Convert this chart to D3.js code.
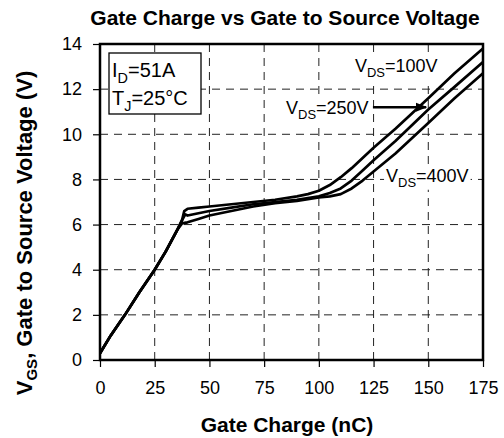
<!DOCTYPE html>
<html>
<head>
<meta charset="utf-8">
<script src="https://cdn.jsdelivr.net/npm/d3@7"></script>
<style>
  body { margin: 0; background: #fff; }
  text { font-family: "Liberation Sans", Arial, sans-serif; fill: #000; }
</style>
</head>
<body>
<script>
// chart data
let xTicks = [0, 25, 50, 75, 100, 125, 150, 175];
let yTicks = [0, 2, 4, 6, 8, 10, 12, 14];

let qg100 = [0, 5, 11.4, 18, 25, 30, 35.5, 37.5, 38.5, 40, 45, 50, 60, 70, 80, 90, 95, 100, 105, 110, 115, 120, 125, 135, 150, 162, 175];
let vgs100 = [0.3, 1.1, 2.0, 3.0, 4.0, 4.8, 5.8, 6.2, 6.6, 6.7, 6.75, 6.8, 6.9, 7.0, 7.1, 7.25, 7.35, 7.5, 7.75, 8.1, 8.5, 8.95, 9.4, 10.25, 11.6, 12.7, 13.8];

let qg250 = [0, 5, 11.4, 18, 25, 30, 35.5, 37.5, 39, 40, 45, 50, 60, 70, 80, 90, 100, 105, 110, 115, 120, 125, 135, 150, 162, 175];
let vgs250 = [0.3, 1.1, 2.0, 3.0, 4.0, 4.8, 5.8, 6.2, 6.45, 6.4, 6.5, 6.6, 6.75, 6.9, 7.0, 7.1, 7.25, 7.4, 7.6, 7.95, 8.4, 8.85, 9.7, 11.1, 12.1, 13.2];

let qg400 = [0, 5, 11.4, 18, 25, 30, 35.5, 37.5, 40, 45, 50, 60, 70, 80, 90, 100, 105, 110, 115, 120, 125, 135, 150, 162, 175];
let vgs400 = [0.3, 1.1, 2.0, 3.0, 4.0, 4.8, 5.8, 6.05, 6.1, 6.25, 6.4, 6.6, 6.8, 6.95, 7.05, 7.2, 7.25, 7.35, 7.6, 7.95, 8.35, 9.15, 10.5, 11.6, 12.7];

let series = [
  {name: "100V", q: qg100, v: vgs100},
  {name: "250V", q: qg250, v: vgs250},
  {name: "400V", q: qg400, v: vgs400}
];

let width = 504;
let height = 438;

let svg = d3.select("body")
            .append("svg")
            .attr("width", width)
            .attr("height", height);

let plotL = 100, plotR = 483, plotT = 44, plotB = 360;

let x = d3.scaleLinear().domain([0, 175]).range([plotL, plotR]);
let y = d3.scaleLinear().domain([0, 14]).range([plotB, plotT]);

// dashed grid
svg.append("g")
   .selectAll("line")
   .data(xTicks.slice(1, -1))
   .join("line")
   .attr("x1", d => x(d)).attr("x2", d => x(d))
   .attr("y1", plotT).attr("y2", plotB)
   .attr("stroke", "#222").attr("stroke-width", 1)
   .attr("stroke-dasharray", "8,6");

svg.append("g")
   .selectAll("line")
   .data(yTicks.slice(1, -1))
   .join("line")
   .attr("x1", plotL).attr("x2", plotR)
   .attr("y1", d => y(d)).attr("y2", d => y(d))
   .attr("stroke", "#222").attr("stroke-width", 1)
   .attr("stroke-dasharray", "8,6");

// axes
let xAxis = svg.append("g")
   .attr("transform", "translate(0," + plotB + ")")
   .call(d3.axisBottom(x).tickValues(xTicks).tickSize(7).tickPadding(14));
let yAxis = svg.append("g")
   .attr("transform", "translate(" + plotL + ",0)")
   .call(d3.axisLeft(y).tickValues(yTicks).tickSize(7).tickPadding(11));

[xAxis, yAxis].forEach(a => {
  a.select(".domain").remove();
  a.selectAll("line").attr("stroke", "#000").attr("stroke-width", 1.2);
  a.selectAll("text").style("font-size", "18px").style("font-family", "Liberation Sans, Arial, sans-serif");
});

// curves
let line = d3.line()
             .x(d => x(d[0]))
             .y(d => y(d[1]));

svg.append("g")
   .selectAll("path")
   .data(series)
   .join("path")
   .attr("d", s => line(s.q.map((q, i) => [q, s.v[i]])))
   .attr("fill", "none")
   .attr("stroke", "#000")
   .attr("stroke-width", 2.7)
   .attr("stroke-linejoin", "round");

// frame
svg.append("rect")
   .attr("x", plotL).attr("y", plotT)
   .attr("width", plotR - plotL).attr("height", plotB - plotT)
   .attr("fill", "none").attr("stroke", "#000").attr("stroke-width", 2.5);

// condition box
svg.append("rect")
   .attr("x", 109).attr("y", 53)
   .attr("width", 92).attr("height", 61)
   .attr("fill", "#fff").attr("stroke", "#000").attr("stroke-width", 1.3);

function subLabel(g, px, py, main, sub, rest, size) {
  let t = g.append("text").attr("x", px).attr("y", py).style("font-size", size + "px");
  t.append("tspan").text(main);
  t.append("tspan").attr("dy", size * 0.28).style("font-size", (size * 0.72) + "px").text(sub);
  t.append("tspan").attr("dy", -size * 0.28).text(rest);
  return t;
}

subLabel(svg, 112, 77, "I", "D", "=51A", 20);
subLabel(svg, 112, 105, "T", "J", "=25°C", 20);

// VDS labels with white backing
let labels = [
  {q: 116.5, v: 12.76, sub: "DS", rest: "=100V"},
  {q: 85, v: 10.9, sub: "DS", rest: "=250V"},
  {q: 130.7, v: 7.9, sub: "DS", rest: "=400V"}
];
labels.forEach(l => {
  let g = svg.append("g");
  let t = subLabel(g, x(l.q), y(l.v), "V", l.sub, l.rest, 18);
  let b = t.node().getBBox();
  g.insert("rect", "text")
   .attr("x", b.x - 2).attr("y", b.y + 2)
   .attr("width", b.width + 4).attr("height", b.height - 2)
   .attr("fill", "#fff");
});

// arrow to 250V curve
svg.append("defs").append("marker")
   .attr("id", "head").attr("viewBox", "0 0 10 10")
   .attr("refX", 9).attr("refY", 5)
   .attr("markerWidth", 4.5).attr("markerHeight", 4.5)
   .attr("orient", "auto")
   .append("path").attr("d", "M0,1 L10,5 L0,9 Z").attr("fill", "#000");

svg.append("line")
   .attr("x1", x(124.7)).attr("x2", x(149))
   .attr("y1", y(11.2)).attr("y2", y(11.2))
   .attr("stroke", "#000").attr("stroke-width", 2.6)
   .attr("marker-end", "url(#head)");

// titles
svg.append("text")
   .attr("x", 285).attr("y", 25)
   .attr("text-anchor", "middle")
   .style("font-size", "21px").style("font-weight", "bold")
   .text("Gate Charge vs Gate to Source Voltage");

svg.append("text")
   .attr("x", 287).attr("y", 432)
   .attr("text-anchor", "middle")
   .style("font-size", "21px").style("font-weight", "bold")
   .text("Gate Charge (nC)");

let yt = svg.append("text")
   .attr("transform", "translate(32,233) rotate(-90)")
   .attr("text-anchor", "middle")
   .style("font-size", "22px").style("font-weight", "bold");
yt.append("tspan").text("V");
yt.append("tspan").attr("dy", 5).style("font-size", "15px").text("GS");
yt.append("tspan").attr("dy", -5).text(", Gate to Source Voltage (V)");
</script>
</body>
</html>
